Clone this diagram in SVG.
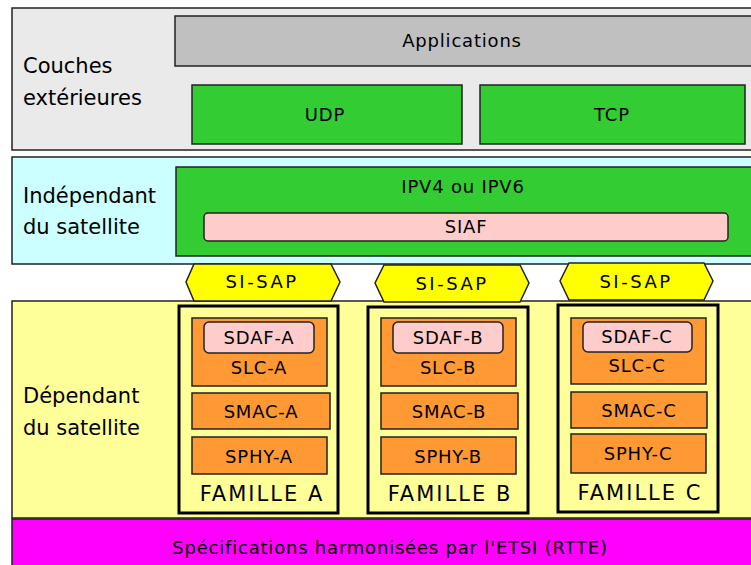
<svg xmlns="http://www.w3.org/2000/svg" width="751" height="565" viewBox="0 0 751 565">
<style>
text{font-family:"Comic Sans MS","DejaVu Sans","Noto Sans",sans-serif;fill:#000;}
.lbl{font-size:21px;}
.t{font-size:18px;text-anchor:middle;letter-spacing:0.8px;}
.sap{letter-spacing:2.5px;}
.fam{font-size:21px;text-anchor:middle;letter-spacing:2px;}
.box{stroke:#222;stroke-width:1.5;}
.green{fill:#33cc33;}
.orange{fill:#ff9933;}
.pink{fill:#ffcccc;}
.yel{fill:#ffff00;}
.famb{fill:none;stroke:#000;stroke-width:3;}
</style>
<rect width="751" height="565" fill="#fff"/>
<g id="layer-ext">
<rect x="12" y="8" width="745" height="142" fill="#eaeaea" class="box"/>
<text class="lbl" x="23" y="73">Couches</text>
<text class="lbl" x="23" y="105">extérieures</text>
</g>
<g id="applications"><rect x="175" y="16" width="582" height="50" fill="#c0c0c0" class="box"/><text class="t" x="462" y="47">Applications</text></g>
<g id="udp"><rect x="192" y="85" width="270" height="59" class="box green"/><text class="t" x="325" y="121">UDP</text></g>
<g id="tcp"><rect x="480" y="85" width="265" height="59" class="box green"/><text class="t" x="612" y="121">TCP</text></g>
<g id="layer-indep">
<rect x="12" y="157" width="745" height="107" fill="#ccffff" class="box"/>
<text class="lbl" x="23" y="203">Indépendant</text>
<text class="lbl" x="23" y="234">du satellite</text>
</g>
<g id="ip"><rect x="176" y="167" width="581" height="89" class="box green"/><text class="t" x="463" y="193">IPV4 ou IPV6</text></g>
<g id="siaf"><rect x="204" y="213" width="524" height="28" rx="4" class="box pink"/><text class="t" x="466" y="233">SIAF</text></g>
<g id="layer-dep">
<rect x="12" y="301" width="745" height="217" fill="#ffff99" class="box"/>
<text class="lbl" x="23" y="403">Dépendant</text>
<text class="lbl" x="23" y="435">du satellite</text>
</g>
<g id="sisap-a"><polygon points="194,264 331,264 340,282 331,301 194,301 186,282" class="box yel"/><text class="t sap" x="262" y="288">SI-SAP</text></g>
<g id="sisap-b"><polygon points="384,265 520,265 529,283 520,302 384,302 375,283" class="box yel"/><text class="t sap" x="452" y="290">SI-SAP</text></g>
<g id="sisap-c"><polygon points="569,263 704,263 713,281 704,300 569,300 560,281" class="box yel"/><text class="t sap" x="636" y="288">SI-SAP</text></g>
<g id="famille-a">
<rect x="179" y="306" width="159" height="207" class="famb"/>
<rect x="192" y="318" width="135" height="68" class="box orange"/>
<rect x="204" y="322" width="110" height="31" rx="5" class="box pink"/>
<text class="t" x="259" y="344">SDAF-A</text>
<text class="t" x="259" y="374">SLC-A</text>
<rect x="192" y="393" width="138" height="36" class="box orange"/>
<text class="t" x="261" y="418">SMAC-A</text>
<rect x="192" y="437" width="135" height="37" class="box orange"/>
<text class="t" x="259" y="463">SPHY-A</text>
<text class="fam" x="262" y="501">FAMILLE A</text>
</g>
<g id="famille-b">
<rect x="368" y="307" width="160" height="206" class="famb"/>
<rect x="381" y="318" width="135" height="68" class="box orange"/>
<rect x="393" y="322" width="110" height="31" rx="5" class="box pink"/>
<text class="t" x="448" y="344">SDAF-B</text>
<text class="t" x="448" y="374">SLC-B</text>
<rect x="381" y="393" width="137" height="36" class="box orange"/>
<text class="t" x="449" y="418">SMAC-B</text>
<rect x="381" y="437" width="135" height="37" class="box orange"/>
<text class="t" x="448" y="463">SPHY-B</text>
<text class="fam" x="450" y="501">FAMILLE B</text>
</g>
<g id="famille-c">
<rect x="558" y="305" width="160" height="207" class="famb"/>
<rect x="571" y="318" width="135" height="66" class="box orange"/>
<rect x="583" y="322" width="109" height="30" rx="5" class="box pink"/>
<text class="t" x="637" y="343">SDAF-C</text>
<text class="t" x="637" y="372">SLC-C</text>
<rect x="571" y="392" width="136" height="36" class="box orange"/>
<text class="t" x="639" y="417">SMAC-C</text>
<rect x="571" y="434" width="135" height="39" class="box orange"/>
<text class="t" x="638" y="460">SPHY-C</text>
<text class="fam" x="640" y="500">FAMILLE C</text>
</g>
<g id="etsi"><rect x="12" y="519" width="745" height="50" fill="#ff00ff" class="box"/><text class="t" x="390" y="554">Spécifications harmonisées par l'ETSI (RTTE)</text></g>
<g id="connectors"></g>
</svg>
